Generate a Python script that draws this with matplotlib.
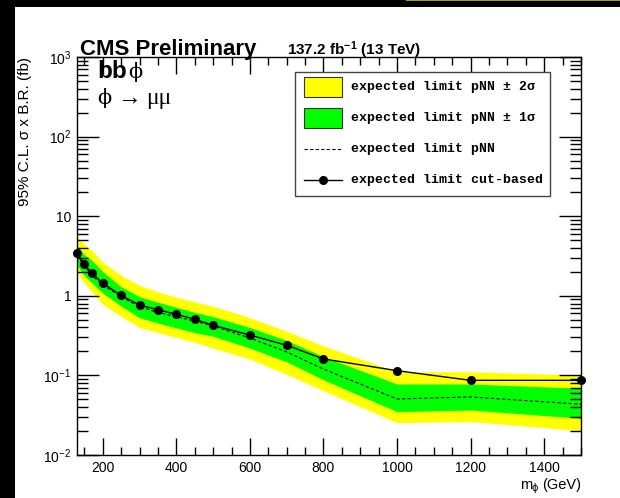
import matplotlib
matplotlib.use('Agg')
import matplotlib.pyplot as plt
from matplotlib.patches import Rectangle
from matplotlib.lines import Line2D
from matplotlib.ticker import FixedLocator, MultipleLocator, LogLocator, FuncFormatter, NullFormatter

plt.rcParams['font.family'] = ['Liberation Sans', 'DejaVu Sans']
plt.rcParams['mathtext.fontset'] = 'custom'
plt.rcParams['mathtext.rm'] = 'Liberation Sans'
plt.rcParams['mathtext.it'] = 'Liberation Sans:italic'
plt.rcParams['mathtext.bf'] = 'Liberation Sans:bold'

# mass points (GeV) and limits (fb)
mass = [130, 150, 170, 200, 250, 300, 350, 400, 450, 500, 600, 700, 800, 1000, 1200, 1500]
cut_based = [3.42, 2.49, 1.93, 1.44, 1.01, 0.766, 0.668, 0.586, 0.507, 0.426,
             0.321, 0.239, 0.161, 0.1146, 0.0867, 0.0867]
pnn_med = [3.2, 2.4, 1.82, 1.37, 0.975, 0.73, 0.62, 0.547, 0.48, 0.418,
           0.295, 0.197, 0.12, 0.0506, 0.0536, 0.0434]
pnn_p1 = [4.2, 3.3, 2.8, 2.01, 1.30, 0.975, 0.83, 0.717, 0.62, 0.547,
          0.40, 0.275, 0.172, 0.078, 0.078, 0.0689]
pnn_m1 = [2.4, 1.8, 1.45, 1.08, 0.74, 0.53, 0.455, 0.395, 0.345, 0.31,
          0.22, 0.148, 0.088, 0.035, 0.0367, 0.0289]
pnn_p2 = [5.6, 4.5, 3.7, 2.65, 1.80, 1.35, 1.12, 0.96, 0.84, 0.74,
          0.53, 0.36, 0.235, 0.111, 0.111, 0.101]
pnn_m2 = [1.95, 1.45, 1.12, 0.78, 0.55, 0.40, 0.345, 0.30, 0.26, 0.22,
          0.16, 0.103, 0.064, 0.0255, 0.0263, 0.0202]

legend_labels = ['expected limit pNN \u00b1 2\u03c3',
                 'expected limit pNN \u00b1 1\u03c3',
                 'expected limit pNN',
                 'expected limit cut-based']
x_major = [200, 400, 600, 800, 1000, 1200, 1400]
y_major = [1e-2, 1e-1, 1, 10, 100, 1000]
y_labels = ['$10^{-2}$', '$10^{-1}$', '1', '10', '$10^{2}$', '$10^{3}$']

W, H = 620, 498
fig = plt.figure(figsize=(W / 100, H / 100), dpi=100)


def fx(x):
    return x / W


def fy(y):
    return 1 - y / H


# screenshot borders
fig.add_artist(Rectangle((0, 0), fx(15), 1, transform=fig.transFigure,
                         facecolor='black', edgecolor='none'))
fig.add_artist(Rectangle((0, fy(7)), 1, 7 / H, transform=fig.transFigure,
                         facecolor='black', edgecolor='none'))
fig.add_artist(Rectangle((fx(406), fy(1.5)), 1, 1.5 / H, transform=fig.transFigure,
                         facecolor='#a0a000', edgecolor='none'))

ax = fig.add_axes([fx(77), fy(455), (581 - 77) / W, (455 - 57) / H])
ax.fill_between(mass, pnn_m2, pnn_p2, color='#ffff00', lw=0)
ax.fill_between(mass, pnn_m1, pnn_p1, color='#00ff00', lw=0)
ax.plot(mass, pnn_med, color='black', lw=0.8, ls=(0, (3, 2)))
ax.plot(mass, cut_based, color='black', lw=1.0, marker='o', ms=5.5, clip_on=False, zorder=5)

ax.set_yscale('log')
ax.set_xlim(130, 1500)
ax.set_ylim(1e-2, 1e3)
ax.xaxis.set_major_locator(FixedLocator(x_major))
ax.xaxis.set_minor_locator(MultipleLocator(50))
ax.yaxis.set_major_locator(FixedLocator(y_major))
ax.yaxis.set_minor_locator(LogLocator(base=10, subs=range(2, 10)))
ax.yaxis.set_major_formatter(FuncFormatter(lambda v, p: y_labels[y_major.index(v)] if v in y_major else ''))
ax.yaxis.set_minor_formatter(NullFormatter())
ax.tick_params(which='both', direction='in', top=True, right=True, width=1.0, labelsize=10)
ax.tick_params(axis='y', which='major', length=16, pad=4)
ax.tick_params(axis='y', which='minor', length=8)
ax.tick_params(axis='x', which='major', length=12, pad=4)
ax.tick_params(axis='x', which='minor', length=6)
for s in ax.spines.values():
    s.set_linewidth(1.0)

# titles and axis labels
serif = ['Liberation Serif', 'DejaVu Serif']
phi_font = ['DejaVu Serif']
fig.text(fx(80), fy(55), 'CMS Preliminary', fontsize=16, weight='bold', va='baseline')
fig.text(fx(287), fy(55), r'$\mathbf{137.2\ fb^{-1}\ (13\ TeV)}$', fontsize=11, va='baseline')
fig.text(fx(97), fy(78), 'bb', fontsize=17.5, weight='bold', va='baseline')
fig.text(fx(128), fy(78), '\u03d5', fontsize=15, va='baseline', family=phi_font)
fig.text(fx(97), fy(104), '\u03d5', fontsize=15, va='baseline', family=phi_font)
fig.text(fx(117), fy(104), '\u2192', fontsize=17, va='baseline', family=serif)
fig.text(fx(146), fy(104), '\u03bc\u03bc', fontsize=17, va='baseline', family=serif)
fig.text(fx(25), fy(57), '95% C.L. \u03c3 x B.R. (fb)', rotation=90, ha='center', va='top', fontsize=11)
fig.text(fx(581), fy(489), '(GeV)', ha='right', va='baseline', fontsize=10.5)
fig.text(fx(532), fy(489), 'm', ha='right', va='baseline', fontsize=10.5)
fig.text(fx(532), fy(491), '\u03d5', ha='left', va='baseline', fontsize=7, family=['DejaVu Sans'])

# legend box
fig.add_artist(Rectangle((fx(295), fy(196)), (550 - 295) / W, (196 - 72) / H,
                         transform=fig.transFigure, facecolor='white', edgecolor='#444444', lw=1.0))
rows = [86.7, 118.3, 149.3, 180]
for yy, col in zip(rows[:2], ['#ffff00', '#00ff00']):
    fig.add_artist(Rectangle((fx(304), fy(yy + 10)), 38 / W, 20 / H, transform=fig.transFigure,
                             facecolor=col, edgecolor='#333333', lw=0.8))
fig.add_artist(Line2D([fx(304), fx(342)], [fy(rows[2])] * 2, transform=fig.transFigure,
                      color='black', lw=0.8, ls=(0, (3, 2))))
fig.add_artist(Line2D([fx(304), fx(342)], [fy(rows[3])] * 2, transform=fig.transFigure,
                      color='black', lw=1.0))
fig.add_artist(Line2D([fx(323)], [fy(rows[3])], transform=fig.transFigure,
                      color='black', marker='o', ms=5.5))
for yy, lab in zip(rows, legend_labels):
    fig.text(fx(351), fy(yy), lab, fontsize=9.5, weight='bold', va='center',
             family=['Liberation Mono', 'DejaVu Sans Mono'])

fig.savefig('out.png', dpi=100, facecolor='white')
